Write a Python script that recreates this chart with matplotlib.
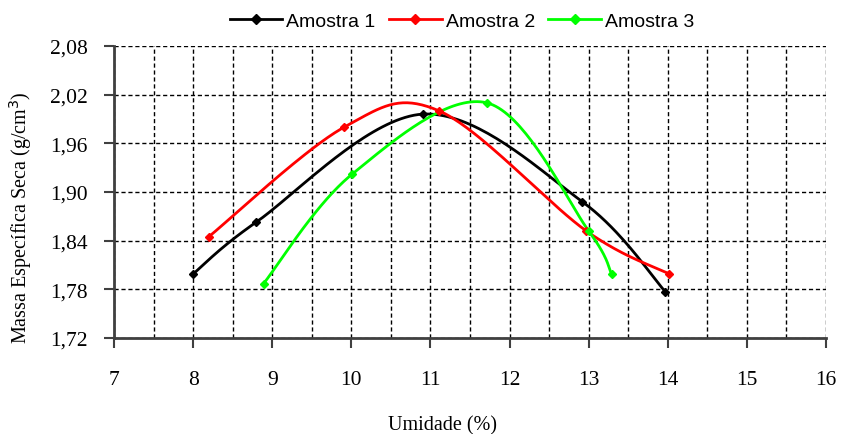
import numpy as np
import matplotlib
matplotlib.use("Agg")
from matplotlib import pyplot as plt
from matplotlib.ticker import MultipleLocator, FixedLocator

# data
umid_1 = [8.0, 8.8, 10.9, 12.92, 13.97]
massa_1 = [1.799, 1.863, 1.996, 1.888, 1.777]
umid_2 = [8.2, 9.91, 11.11, 12.97, 14.02]
massa_2 = [1.845, 1.980, 2.000, 1.852, 1.799]
umid_3 = [8.89, 10.01, 11.71, 13.0, 13.29]
massa_3 = [1.787, 1.922, 2.010, 1.852, 1.799]

series = [
    ("Amostra 1", umid_1, massa_1, "#000000"),
    ("Amostra 2", umid_2, massa_2, "#ff0000"),
    ("Amostra 3", umid_3, massa_3, "#00ff00"),
]


def smooth(xs, ys, n=40):
    # catmull-rom style bezier like spreadsheet "smoothed line"
    pts = np.column_stack([xs, ys])
    out = [pts[0]]
    for i in range(len(pts) - 1):
        p0 = pts[i - 1] if i > 0 else pts[i]
        p1 = pts[i]
        p2 = pts[i + 1]
        p3 = pts[i + 2] if i + 2 < len(pts) else pts[i + 1]
        c1 = p1 + (p2 - p0) / 6.0
        c2 = p2 - (p3 - p1) / 6.0
        t = np.linspace(0, 1, n)[1:, None]
        seg = ((1 - t) ** 3 * p1 + 3 * (1 - t) ** 2 * t * c1
               + 3 * (1 - t) * t ** 2 * c2 + t ** 3 * p2)
        out.extend(seg)
    out = np.array(out)
    return out[:, 0], out[:, 1]


fig = plt.figure(figsize=[8.41, 4.35], dpi=100)
ax = fig.add_axes([114 / 841, 1 - 339 / 435, (826 - 114) / 841, (339 - 47) / 435])

for name, xs, ys, col in series:
    sx, sy = smooth(xs, ys)
    ax.plot(sx, sy, color=col, lw=2, zorder=3)
    ax.plot(xs, ys, ls="none", marker="D", ms=4.5, color=col, zorder=4)
    ax.plot([], [], color=col, lw=2, marker="D", ms=5, label=name)

ax.set_xlim(7, 16)
ax.set_ylim(1.72, 2.08)
ax.xaxis.set_major_locator(MultipleLocator(1))
ax.xaxis.set_minor_locator(MultipleLocator(0.5))
ax.yaxis.set_major_locator(FixedLocator([1.72, 1.78, 1.84, 1.90, 1.96, 2.02, 2.08]))
ax.set_yticklabels(["1,72", "1,78", "1,84", "1,90", "1,96", "2,02", "2,08"])

ax.grid(which="both", axis="x", color="black", ls=(0, (3, 2)), lw=1, zorder=1)
ax.grid(which="major", axis="y", color="black", ls=(0, (3, 2)), lw=1, zorder=1)

for s in ["top", "right"]:
    ax.spines[s].set_visible(False)
for s in ["left", "bottom"]:
    ax.spines[s].set_color("#404040")
    ax.spines[s].set_linewidth(2)
    ax.spines[s].set_zorder(5)

ax.tick_params(which="major", direction="out", length=7, width=1.5,
               color="#404040", labelsize=15.5)
ax.tick_params(axis="x", pad=16)
ax.tick_params(axis="y", pad=12)
ax.tick_params(which="minor", length=0)
for lab in ax.get_xticklabels() + ax.get_yticklabels():
    lab.set_family("Liberation Serif")

fig.text(443 / 841, 1 - 426 / 435, "Umidade (%)", family="Liberation Serif",
         fontsize=14.5, ha="center", va="center")
fig.text(21 / 841, 1 - 218 / 435, "Massa Específica Seca (g/cm$^3$)",
         family="Liberation Serif", fontsize=14.5, rotation=90,
         ha="center", va="center")

fig.legend(loc="center", bbox_to_anchor=(462 / 841, 1 - 22 / 435), ncol=3,
           frameon=False, prop={"family": "Liberation Sans", "size": 14},
           handlelength=2.7, columnspacing=0.7, handletextpad=0.2)

fig.savefig("out.png", dpi=100)
